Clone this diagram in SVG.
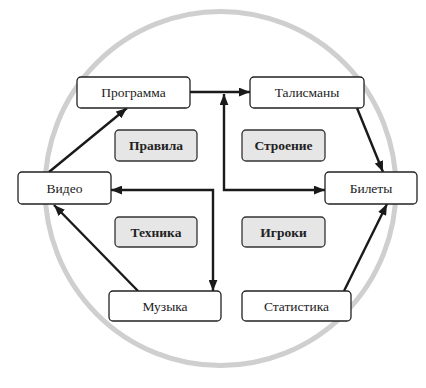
<svg xmlns="http://www.w3.org/2000/svg" width="426" height="388" viewBox="0 0 426 388">
<style>
.node rect{fill:#fff;stroke:#222;stroke-width:1.3}
.topic rect{fill:#e6e6e6;stroke:#333;stroke-width:1.3}
text{font-family:"Liberation Serif","DejaVu Serif",serif;font-size:13.5px;fill:#222;text-anchor:middle}
.topic text{font-weight:bold}
.conn path{fill:none;stroke:#1a1a1a;stroke-width:2.4}
</style>
<defs>
<marker id="ah" viewBox="0 0 10 8" refX="10" refY="4" markerWidth="11" markerHeight="9" markerUnits="userSpaceOnUse" orient="auto-start-reverse">
<path d="M0,0 L10,4 L0,8 z" fill="#1a1a1a"/>
</marker>
</defs>
<ellipse cx="220.5" cy="188.5" rx="175.5" ry="177" fill="none" stroke="#cfcfcf" stroke-width="5"/>
<g class="conn">
<path d="M190,92 L250,92" marker-end="url(#ah)"/>
<path d="M224,94 L224,190 L325,190" marker-start="url(#ah)" marker-end="url(#ah)"/>
<path d="M111,190 L213,190 L213,291" marker-start="url(#ah)" marker-end="url(#ah)"/>
<path d="M49,172 L127,108" marker-end="url(#ah)"/>
<path d="M357,108 L383,172" marker-end="url(#ah)"/>
<path d="M138,291 L54,205" marker-end="url(#ah)"/>
<path d="M344,291 L387,204" marker-end="url(#ah)"/>
</g>
<g id="programma" class="node"><rect x="77" y="77" width="113" height="31" rx="4"/><text x="133.5" y="97">Программа</text></g>
<g id="talismany" class="node"><rect x="250" y="77" width="114" height="31" rx="4"/><text x="307" y="97">Талисманы</text></g>
<g id="video" class="node"><rect x="18" y="172" width="93" height="32" rx="4"/><text x="64.5" y="193">Видео</text></g>
<g id="bilety" class="node"><rect x="325" y="172" width="92" height="32" rx="4"/><text x="371" y="193">Билеты</text></g>
<g id="muzyka" class="node"><rect x="109" y="291" width="112" height="30" rx="4"/><text x="165" y="310.5">Музыка</text></g>
<g id="statistika" class="node"><rect x="242" y="291" width="109" height="30" rx="4"/><text x="296.5" y="310.5">Статистика</text></g>
<g id="pravila" class="topic"><rect x="115" y="130" width="82" height="31" rx="4"/><text x="156" y="150">Правила</text></g>
<g id="stroenie" class="topic"><rect x="242" y="130" width="83" height="31" rx="4"/><text x="283.5" y="150">Строение</text></g>
<g id="tehnika" class="topic"><rect x="115" y="217" width="82" height="30" rx="4"/><text x="156" y="236.5">Техника</text></g>
<g id="igroki" class="topic"><rect x="242" y="217" width="83" height="30" rx="4"/><text x="283.5" y="236.5">Игроки</text></g>
</svg>
